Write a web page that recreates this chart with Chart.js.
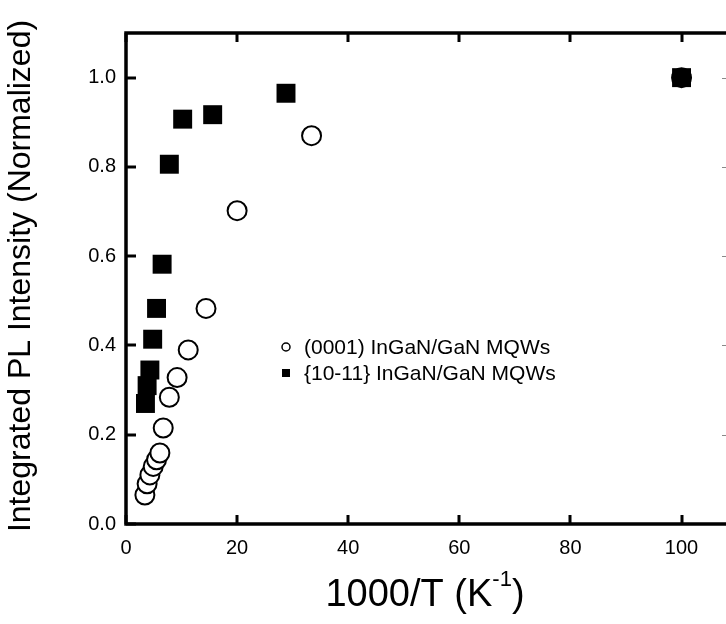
<!DOCTYPE html>
<html>
<head>
<meta charset="utf-8">
<script src="https://cdn.jsdelivr.net/npm/chart.js@4.4.1/dist/chart.umd.min.js"></script>
<style>
  html, body { margin: 0; padding: 0; background: #fff; }
  canvas { display: block; }
</style>
</head>
<body>
<canvas id="plChart" width="726" height="624"></canvas>
<script>
// (0001) MQWs, open circles
const c0001X = [3.4, 3.8, 4.3, 4.9, 5.5, 6.1, 6.7, 7.8, 9.2, 11.2, 14.4, 20.0, 33.4, 100];
const c0001Y = [0.065, 0.090, 0.110, 0.129, 0.144, 0.159, 0.215, 0.284, 0.328, 0.390, 0.483, 0.702, 0.870, 1.0];
// {10-11} MQWs, filled squares
const c1011X = [3.5, 3.8, 4.3, 4.8, 5.5, 6.5, 7.8, 10.2, 15.6, 28.8, 100];
const c1011Y = [0.270, 0.310, 0.345, 0.414, 0.483, 0.582, 0.806, 0.907, 0.917, 0.965, 1.0];

const xTicks = [0, 20, 40, 60, 80, 100];
const yTicks = [0.0, 0.2, 0.4, 0.6, 0.8, 1.0];
const seriesNames = ["(0001) InGaN/GaN MQWs", "{10-11} InGaN/GaN MQWs"];

const FONT = '"Liberation Sans", Arial, sans-serif';

function toPoints(xs, ys) {
  return xs.map((x, i) => ({ x: x, y: ys[i] }));
}

// frame, inward ticks, legend and axis titles
const framePlugin = {
  id: "frame",
  afterDraw(chart) {
    const { ctx, chartArea: a, scales } = chart;
    ctx.save();
    ctx.strokeStyle = "#000";
    ctx.lineCap = "butt";

    ctx.lineWidth = 3;
    xTicks.forEach(v => {
      const px = Math.round(scales.x.getPixelForValue(v));
      ctx.beginPath();
      ctx.moveTo(px, a.bottom);
      ctx.lineTo(px, a.bottom - 9);
      ctx.moveTo(px, a.top);
      ctx.lineTo(px, a.top + 9);
      ctx.stroke();
    });
    yTicks.forEach(v => {
      const py = Math.round(scales.y.getPixelForValue(v));
      ctx.beginPath();
      ctx.moveTo(a.left, py);
      ctx.lineTo(a.left + 10, py);
      ctx.stroke();
    });
    // right axis ticks, mostly cut off by the edge
    ctx.lineWidth = 1;
    ctx.strokeStyle = "#888";
    yTicks.forEach(v => {
      const py = Math.round(scales.y.getPixelForValue(v)) + 0.5;
      ctx.beginPath();
      ctx.moveTo(a.right, py);
      ctx.lineTo(a.right - 4, py);
      ctx.stroke();
    });

    ctx.strokeStyle = "#000";
    ctx.lineWidth = 3.5;
    ctx.beginPath();
    ctx.moveTo(a.right + 2, a.top);
    ctx.lineTo(a.left, a.top);
    ctx.lineTo(a.left, a.bottom);
    ctx.lineTo(a.right + 2, a.bottom);
    ctx.stroke();

    // legend
    ctx.fillStyle = "#000";
    ctx.font = "21px " + FONT;
    ctx.textAlign = "left";
    ctx.textBaseline = "middle";
    ctx.lineWidth = 1.5;
    ctx.beginPath();
    ctx.arc(286, 347, 4, 0, Math.PI * 2);
    ctx.stroke();
    ctx.fillText(seriesNames[0], 304, 348);
    ctx.fillRect(282, 369, 8, 8);
    ctx.fillText(seriesNames[1], 304, 374);

    // y title
    ctx.save();
    ctx.translate(21, 276);
    ctx.rotate(-Math.PI / 2);
    ctx.textAlign = "center";
    ctx.font = "32px " + FONT;
    ctx.fillText("Integrated PL Intensity (Normalized)", 0, 0);
    ctx.restore();

    // x title with superscript
    const main = "1000/T (K", sup = "-1", close = ")";
    ctx.textBaseline = "alphabetic";
    ctx.font = "38px " + FONT;
    const w1 = ctx.measureText(main).width;
    const w3 = ctx.measureText(close).width;
    ctx.font = "22px " + FONT;
    const w2 = ctx.measureText(sup).width;
    let x0 = 425 - (w1 + w2 + w3) / 2;
    const base = 606;
    ctx.font = "38px " + FONT;
    ctx.fillText(main, x0, base);
    ctx.font = "22px " + FONT;
    ctx.fillText(sup, x0 + w1, base - 20);
    ctx.font = "38px " + FONT;
    ctx.fillText(close, x0 + w1 + w2, base);

    ctx.restore();
  }
};

const ctx = document.getElementById("plChart").getContext("2d");

new Chart(ctx, {
  type: "scatter",
  data: {
    datasets: [
      {
        label: seriesNames[1],
        data: toPoints(c1011X, c1011Y),
        pointStyle: "rect",
        pointRadius: 13.4,
        backgroundColor: "#000",
        borderColor: "#000",
        borderWidth: 0,
      },
      {
        label: seriesNames[0],
        data: toPoints(c0001X, c0001Y),
        pointStyle: "circle",
        pointRadius: 9.5,
        backgroundColor: "#fff",
        borderColor: "#000",
        borderWidth: 2,
      },
    ],
  },
  options: {
    responsive: false,
    animation: false,
    events: [],
    layout: { autoPadding: false, padding: { top: 33, right: 0, left: 0, bottom: 0 } },
    plugins: {
      legend: { display: false },
      tooltip: { enabled: false },
    },
    scales: {
      x: {
        type: "linear",
        min: 0,
        max: 108,
        grid: { display: false, drawTicks: false },
        border: { display: false },
        afterBuildTicks: s => { s.ticks = xTicks.map(v => ({ value: v })); },
        afterFit: s => { s.height = 100; s.paddingLeft = 0; s.paddingRight = 0; },
        ticks: {
          color: "#000",
          padding: 12,
          font: { family: FONT, size: 20 },
          maxRotation: 0,
        },
      },
      y: {
        min: 0,
        max: 1.1,
        grid: { display: false, drawTicks: false },
        border: { display: false },
        afterBuildTicks: s => { s.ticks = yTicks.map(v => ({ value: v })); },
        afterFit: s => { s.width = 126; s.paddingTop = 0; s.paddingBottom = 0; },
        ticks: {
          color: "#000",
          padding: 10,
          font: { family: FONT, size: 20 },
          callback: v => v.toFixed(1),
        },
      },
    },
  },
  plugins: [framePlugin],
});
</script>
</body>
</html>
